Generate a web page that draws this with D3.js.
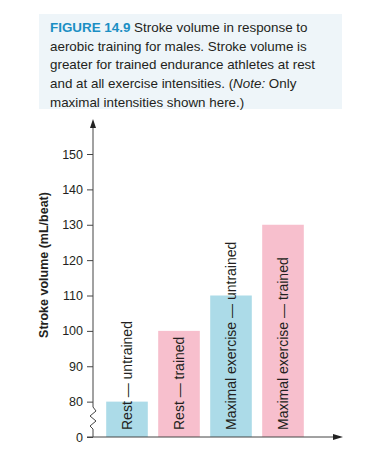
<!DOCTYPE html>
<html>
<head>
<meta charset="utf-8">
<script src="https://cdn.jsdelivr.net/npm/d3@7"></script>
<style>
body { margin: 0; background: #fff; }
text { font-family: "Liberation Sans", Arial, Helvetica, sans-serif; }
</style>
</head>
<body>
<div id="chart"></div>
<script>

var categories = ["Rest \u2014 untrained", "Rest \u2014 trained", "Maximal exercise \u2014 untrained", "Maximal exercise \u2014 trained"];
var values = [80, 100, 110, 130];
var trained = [false, true, false, true];
var tickValues = [70, 80, 90, 100, 110, 120, 130, 140, 150];
var tickLabels = ["0", "80", "90", "100", "110", "120", "130", "140", "150"];

var captionLines = [
	[{t: "FIGURE 14.9", fig: true}, {t: " Stroke volume in response to"}],
	[{t: "aerobic training for males. Stroke volume is"}],
	[{t: "greater for trained endurance athletes at rest"}],
	[{t: "and at all exercise intensities. ("}, {t: "Note:", it: true}, {t: " Only"}],
	[{t: "maximal intensities shown here.)"}]
];

var W = 380, H = 460;
var x0 = 93, baseY = 437;

var svg = d3.select("#chart")
	.append("svg")
	.attr("width", W)
	.attr("height", H)
	.style("display", "block");

// caption box
svg.append("rect")
	.attr("x", 39).attr("y", 14)
	.attr("width", 303).attr("height", 95)
	.style("fill", "#eef5f9");

var cap = svg.append("text")
	.attr("x", 50)
	.attr("y", 32)
	.style("font-size", "13.4px")
	.style("fill", "#231f20");

captionLines.forEach(function(line, i) {
	line.forEach(function(seg, j) {
		var ts = cap.append("tspan").text(seg.t);
		if (j == 0) ts.attr("x", 50).attr("dy", i == 0 ? 0 : 18.7);
		if (seg.fig) ts.style("fill", "#1b8fc4").style("font-weight", "bold");
		if (seg.it) ts.style("font-style", "italic");
	});
});

var y = d3.scaleLinear()
	.domain([70, 150])
	.range([baseY, 154]);

var x = d3.scaleBand()
	.domain(categories)
	.range([101, 309])
	.paddingInner(0.2)
	.paddingOuter(0.1);

// bars
svg.selectAll(".bar")
	.data(values)
	.enter().append("rect")
	.attr("class", "bar")
	.attr("x", function(d, i) { return x(categories[i]); })
	.attr("y", function(d) { return y(d); })
	.attr("width", x.bandwidth())
	.attr("height", function(d) { return baseY - y(d); })
	.style("fill", function(d, i) { return trained[i] ? "#f7bfcd" : "#acdbe8"; });

// bar labels
svg.selectAll(".blab")
	.data(categories)
	.enter().append("text")
	.attr("class", "blab")
	.attr("transform", function(d) { return "translate(" + (x(d) + x.bandwidth() / 2 + 5) + "," + 430 + ") rotate(-90)"; })
	.style("font-size", "14px")
	.style("fill", "#231f20")
	.text(function(d) { return d; });

// y axis
var yAxis = d3.axisLeft(y)
	.tickValues(tickValues)
	.tickFormat(function(d, i) { return tickLabels[i]; })
	.tickSize(6)
	.tickPadding(4);

var ga = svg.append("g")
	.attr("transform", "translate(" + x0 + ",0)")
	.call(yAxis);
ga.select(".domain").remove();
ga.selectAll(".tick line").style("stroke", "#444");
ga.selectAll(".tick text")
	.style("font-size", "12.5px")
	.style("fill", "#231f20")
	.style("font-family", "'Liberation Sans', Arial, sans-serif");

var axisCol = "#444";
// vertical axis line with break
var zig = [[x0, baseY], [x0, 429], [x0 - 3, 426], [x0 + 3, 421], [x0 - 3, 416], [x0 + 3, 411], [x0, 407], [x0, 126]];
svg.append("path")
	.attr("d", d3.line()(zig))
	.style("fill", "none")
	.style("stroke", axisCol)
	.style("stroke-width", 1);

svg.append("path")
	.attr("d", "M" + x0 + ",119 L" + (x0 - 3) + ",128 L" + (x0 + 3) + ",128 Z")
	.style("fill", "#222");

// horizontal axis
svg.append("line")
	.attr("x1", x0 - 6).attr("x2", 334)
	.attr("y1", baseY).attr("y2", baseY)
	.style("stroke", axisCol);
svg.append("path")
	.attr("d", "M343," + baseY + " L333," + (baseY - 3) + " L333," + (baseY + 3) + " Z")
	.style("fill", "#222");

// y label
svg.append("text")
	.attr("transform", "translate(48,265) rotate(-90)")
	.attr("text-anchor", "middle")
	.style("font-size", "12.5px")
	.style("font-weight", "bold")
	.style("fill", "#231f20")
	.text("Stroke volume (mL/beat)");

</script>
</body>
</html>
